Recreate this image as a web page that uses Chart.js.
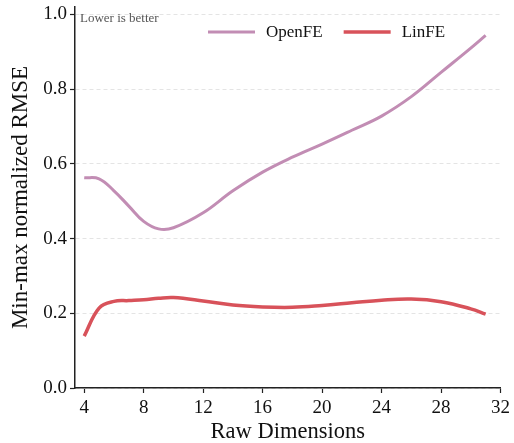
<!DOCTYPE html>
<html>
<head>
<meta charset="utf-8">
<script src="https://cdn.jsdelivr.net/npm/chart.js@4.4.0/dist/chart.umd.min.js"></script>
<style>
  html, body { margin: 0; padding: 0; background: #ffffff; }
  #wrap { width: 514px; height: 443px; }
</style>
</head>
<body>
<div id="wrap"><canvas id="chart" width="514" height="443"></canvas></div>
<script>
// Raw dimensions (x) and the two series
const dims = [4, 5, 6, 7, 8, 9, 10, 12, 14, 16, 18, 20, 22, 24, 26, 28, 30, 31];
const openFE = [0.563, 0.560, 0.528, 0.487, 0.446, 0.426, 0.429, 0.469, 0.528, 0.578, 0.618, 0.653, 0.690, 0.728, 0.780, 0.845, 0.910, 0.944];
const linFE = [0.139, 0.214, 0.232, 0.234, 0.236, 0.240, 0.242, 0.233, 0.222, 0.217, 0.216, 0.221, 0.228, 0.235, 0.238, 0.231, 0.212, 0.198];
const xTicks = [4, 8, 12, 16, 20, 24, 28, 32];
const yTicks = [0.0, 0.2, 0.4, 0.6, 0.8, 1.0];

const serif = '"Liberation Serif", "DejaVu Serif", serif';
const openColor = '#c28db4';
const linColor = '#d8525a';

function toPoints(ys) {
    return dims.map((d, i) => ({ x: d, y: ys[i] }));
}

// legend + note drawn inside the plot area
const insideLegend = {
    id: 'insideLegend',
    afterDraw(chart) {
        const ctx = chart.ctx;
        const area = chart.chartArea;
        ctx.save();
        ctx.font = '13px ' + serif;
        ctx.fillStyle = '#555555';
        ctx.textBaseline = 'middle';
        ctx.fillText('Lower is better', area.left + 5, 19);

        ctx.font = '17px ' + serif;
        let x = 208;
        const y = 32;
        chart.data.datasets.forEach(ds => {
            ctx.strokeStyle = ds.borderColor;
            ctx.lineWidth = ds.borderWidth;
            ctx.beginPath();
            ctx.moveTo(x, y);
            ctx.lineTo(x + 47, y);
            ctx.stroke();
            ctx.fillStyle = '#111111';
            ctx.fillText(ds.label, x + 58, y + 1);
            x += 58 + ctx.measureText(ds.label).width + 21;
        });
        ctx.restore();
    }
};

new Chart(document.getElementById('chart').getContext('2d'), {
    type: 'line',
    data: {
        datasets: [
            {
                label: 'OpenFE',
                data: toPoints(openFE),
                borderColor: openColor,
                borderWidth: 3,
                pointRadius: 0,
                tension: 0.4,
                fill: false
            },
            {
                label: 'LinFE',
                data: toPoints(linFE),
                borderColor: linColor,
                borderWidth: 3.5,
                pointRadius: 0,
                tension: 0.4,
                fill: false
            }
        ]
    },
    options: {
        responsive: false,
        animation: false,
        layout: { padding: { top: 7, right: 11, left: 7, bottom: 0 } },
        plugins: {
            legend: { display: false },
            tooltip: { enabled: false }
        },
        scales: {
            x: {
                type: 'linear',
                min: 3.38,
                max: 32,
                afterBuildTicks: axis => { axis.ticks = xTicks.map(v => ({ value: v })); },
                afterFit: scale => { scale.height = 55; },
                border: { color: '#222222', width: 1.5 },
                grid: { drawOnChartArea: false, drawTicks: true, tickLength: 5, tickColor: '#222222', tickWidth: 1.2 },
                ticks: { color: '#111111', font: { family: serif, size: 19 }, padding: 4, maxRotation: 0 },
                title: { display: true, text: 'Raw Dimensions', color: '#111111', font: { family: serif, size: 22.5, lineHeight: 1 }, padding: { top: 6, bottom: 0 } }
            },
            y: {
                min: 0,
                max: 1.02,
                afterBuildTicks: axis => { axis.ticks = yTicks.map(v => ({ value: v })); },
                afterFit: scale => {
                    scale.width = 68;
                    scale.paddingTop = 0;
                    scale.paddingBottom = 0;
                },
                border: { color: '#222222', width: 1.5, dash: [4, 3] },
                grid: {
                    color: '#e4e4e4',
                    lineWidth: 1,
                    tickLength: 5,
                    tickColor: '#222222',
                    tickWidth: 1.2,
                    tickBorderDash: []
                },
                ticks: {
                    color: '#111111',
                    font: { family: serif, size: 19 },
                    padding: 3,
                    callback: v => v.toFixed(1)
                },
                title: { display: true, text: 'Min-max normalized RMSE', color: '#111111', font: { family: serif, size: 23 }, padding: { top: 0, bottom: 4 } }
            }
        }
    },
    plugins: [insideLegend]
});
</script>
</body>
</html>
